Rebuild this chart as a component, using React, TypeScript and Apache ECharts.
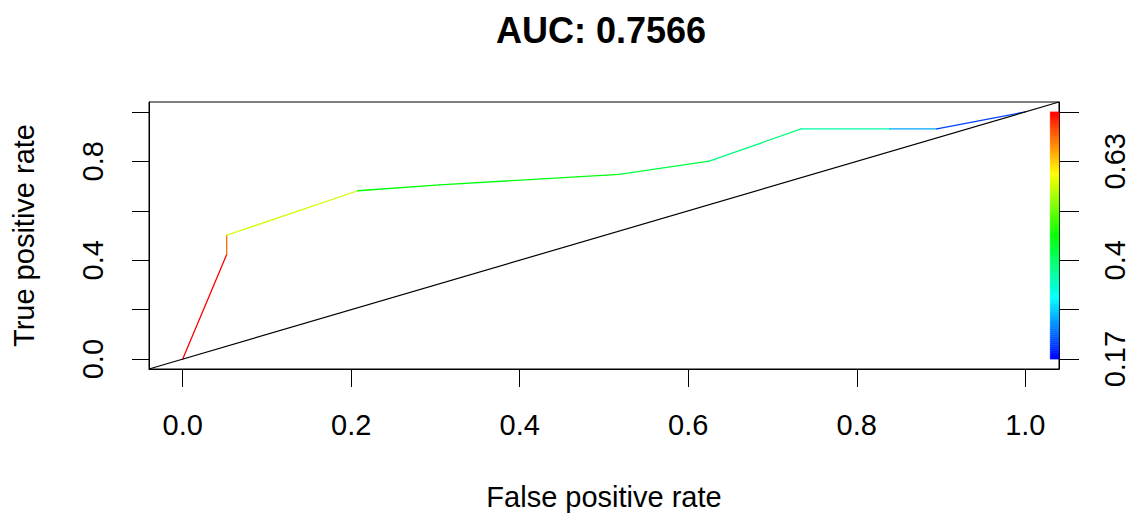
import React, { useEffect, useRef } from "react";
import * as echarts from "echarts";

// ROC curve points (false positive rate, true positive rate) and the cutoff reached at each point
const fpr = [0, 0.0522, 0.0522, 0.2077, 0.3047, 0.518, 0.625, 0.734, 0.839, 0.895, 1.0];
const tpr = [0, 0.423, 0.501, 0.681, 0.705, 0.747, 0.801, 0.931, 0.931, 0.931, 1.0];
const cutoffs = [0.75, 0.745, 0.685, 0.573, 0.458, 0.45, 0.42, 0.386, 0.362, 0.266, 0.206];

// cutoff range covered by the colour key
const cutoffMin = 0.17;
const cutoffMax = 0.745;

// axis ticks and labels
const axisTicks = [0, 0.2, 0.4, 0.6, 0.8, 1.0];
const xTickLabels = [0, 0.2, 0.4, 0.6, 0.8, 1.0];
const yTickLabels = [0, 0.4, 0.8];
const keyLabelPositions = [0, 0.4, 0.8];
const keyLabelTexts = ["0.17", "0.4", "0.63"];

const titleText = "AUC: 0.7566";
const xName = "False positive rate";
const yName = "True positive rate";

const AXIS_MIN = -0.04;
const AXIS_MAX = 1.04;
const KEY_X0 = 1.0296;
const KEY_X1 = 1.04;
const KEY_STEPS = 120;
const FONT = "'Liberation Sans', Arial, sans-serif";

function hsv(h: number): string {
  const hp = (((h % 360) + 360) % 360) / 60;
  const x = 1 - Math.abs((hp % 2) - 1);
  let r = 0, g = 0, b = 0;
  if (hp < 1) { r = 1; g = x; }
  else if (hp < 2) { r = x; g = 1; }
  else if (hp < 3) { g = 1; b = x; }
  else if (hp < 4) { g = x; b = 1; }
  else if (hp < 5) { r = x; b = 1; }
  else { r = 1; b = x; }
  const toHex = (v: number) => Math.round(v * 255).toString(16).padStart(2, "0");
  return "#" + toHex(r) + toHex(g) + toHex(b);
}

// red (high) .. blue (low), like R's rainbow(start = 0, end = 4/6)
function rainbow(pos: number): string {
  const p = Math.max(0, Math.min(1, pos));
  return hsv(240 * (1 - p));
}

function cutoffColor(c: number): string {
  return rainbow((c - cutoffMin) / (cutoffMax - cutoffMin));
}

export default function App() {
  const ref = useRef<HTMLDivElement>(null);

  useEffect(() => {
    if (!ref.current) return;
    const chart = echarts.init(ref.current, null, { renderer: "svg" });

    const segments = fpr.slice(1).map((_, i) => [fpr[i], tpr[i], fpr[i + 1], tpr[i + 1], cutoffs[i + 1]]);
    const keyCells = Array.from({ length: KEY_STEPS }, (_, i) => [i / KEY_STEPS, (i + 1) / KEY_STEPS]);
    const keyLabelFor = (v: number) => {
      const idx = keyLabelPositions.findIndex((p) => Math.abs(p - v) < 1e-6);
      return idx >= 0 ? keyLabelTexts[idx] : "";
    };

    const labelStyle = { color: "#000", fontSize: 29, fontFamily: FONT };
    const axisLine = { show: true, onZero: false, lineStyle: { color: "#000", width: 1 } };

    chart.setOption({
      animation: false,
      backgroundColor: "#fff",
      graphic: [
        {
          type: "text",
          x: 601,
          y: 30,
          style: {
            text: titleText,
            fill: "#000",
            font: `bold 36px ${FONT}`,
            align: "center",
            verticalAlign: "middle",
          },
        },
      ],
      grid: {
        left: 149,
        top: 102,
        width: 910,
        height: 270,
        show: true,
        borderColor: "#000",
        borderWidth: 1,
        backgroundColor: "transparent",
      },
      xAxis: {
        type: "value",
        min: AXIS_MIN,
        max: AXIS_MAX,
        name: xName,
        nameLocation: "middle",
        nameGap: 113,
        nameTextStyle: labelStyle,
        axisLine,
        axisTick: { show: true, length: 18, customValues: axisTicks, lineStyle: { color: "#000", width: 1 } },
        axisLabel: {
          ...labelStyle,
          margin: 41,
          customValues: xTickLabels,
          formatter: (v: number) => v.toFixed(1),
        },
        splitLine: { show: false },
      },
      yAxis: [
        {
          type: "value",
          min: AXIS_MIN,
          max: AXIS_MAX,
          position: "left",
          name: yName,
          nameLocation: "middle",
          nameGap: 111,
          nameRotate: 90,
          nameTextStyle: labelStyle,
          axisLine,
          axisTick: { show: true, length: 17, customValues: axisTicks, lineStyle: { color: "#000", width: 1 } },
          axisLabel: {
            ...labelStyle,
            rotate: 90,
            margin: 42,
            customValues: yTickLabels,
            formatter: (v: number) => v.toFixed(1),
          },
          splitLine: { show: false },
        },
        {
          type: "value",
          min: AXIS_MIN,
          max: AXIS_MAX,
          position: "right",
          axisLine,
          axisTick: { show: true, length: 20, customValues: axisTicks, lineStyle: { color: "#000", width: 1 } },
          axisLabel: {
            ...labelStyle,
            rotate: 90,
            margin: 41,
            customValues: keyLabelPositions,
            formatter: (v: number) => keyLabelFor(v),
          },
          splitLine: { show: false },
        },
      ],
      series: [
        {
          // colourised ROC curve, one segment per step
          type: "custom",
          z: 2,
          clip: true,
          data: segments,
          encode: { x: [0, 2], y: [1, 3] },
          renderItem: (_params: any, api: any) => {
            const p0 = api.coord([api.value(0), api.value(1)]);
            const p1 = api.coord([api.value(2), api.value(3)]);
            return {
              type: "line",
              shape: { x1: p0[0], y1: p0[1], x2: p1[0], y2: p1[1] },
              style: { stroke: cutoffColor(api.value(4)), lineWidth: 1.3, lineCap: "round" },
            };
          },
        },
        {
          // chance diagonal y = x across the whole plot
          type: "line",
          z: 3,
          data: [
            [AXIS_MIN, AXIS_MIN],
            [AXIS_MAX, AXIS_MAX],
          ],
          showSymbol: false,
          symbol: "none",
          lineStyle: { color: "#000", width: 1.2 },
          silent: true,
        },
        {
          // colour key for the cutoff
          type: "custom",
          z: 4,
          data: keyCells,
          encode: { y: [0, 1] },
          renderItem: (_params: any, api: any) => {
            const lo = api.value(0);
            const hi = api.value(1);
            const a = api.coord([KEY_X0, hi]);
            const b = api.coord([KEY_X1, lo]);
            const col = rainbow((lo + hi) / 2);
            return {
              type: "rect",
              shape: { x: a[0], y: a[1], width: b[0] - a[0], height: b[1] - a[1] },
              style: { fill: col, stroke: col, lineWidth: 0.5 },
            };
          },
        },
      ],
    });

    return () => chart.dispose();
  }, []);

  return (
    <div
      ref={ref}
      style={{ position: "absolute", left: 0, top: 0, width: 1131, height: 516, background: "#fff" }}
    />
  );
}
